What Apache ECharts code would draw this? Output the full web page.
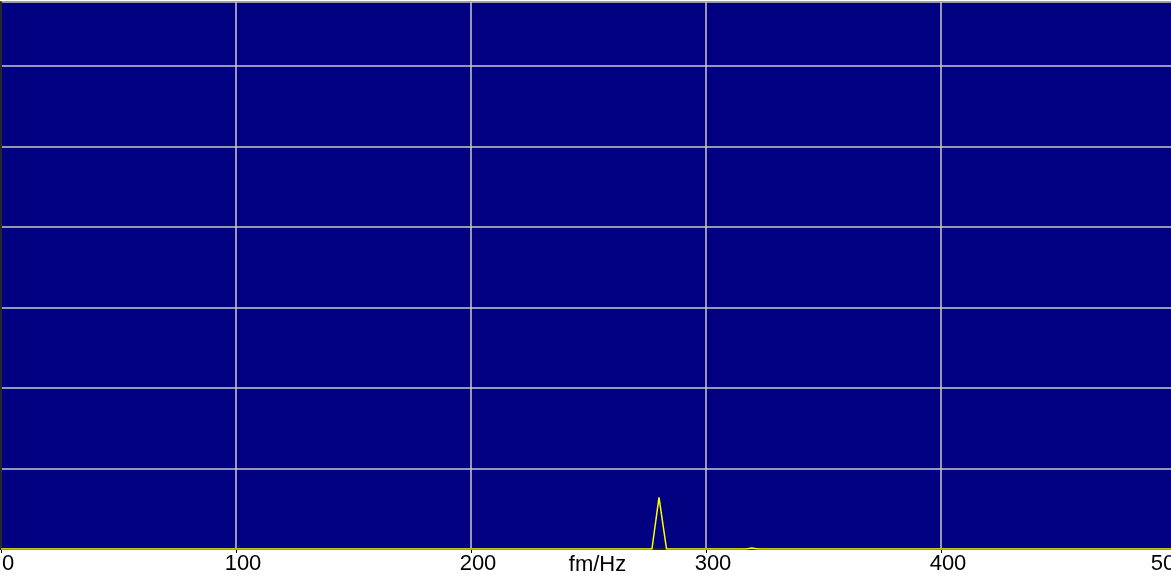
<!DOCTYPE html>
<html>
<head>
<meta charset="utf-8">
<script src="https://cdn.jsdelivr.net/npm/echarts@6/dist/echarts.min.js"></script>
<style>html,body{margin:0;padding:0;background:#fff;}#c{width:1171px;height:581px;}</style>
</head>
<body>
<div id="c"></div>
<script>
// Frequency (Hz) and amplitude of the spectrum trace
var freqs = [0, 277.0, 280.0, 283.2, 317.0, 319.5, 322.0, 500];
var amps  = [0, 0, 0.642, 0, 0, 0.012, 0, 0];
var xTicks = [0, 100, 200, 300, 400, 500];
var xName = 'fm/Hz';

var data = freqs.map(function (f, i) { return [f, amps[i]]; });
var xMax = xTicks[xTicks.length - 1];
var lblFont = { color: '#000', fontSize: 22, fontFamily: 'Liberation Sans' };
var chart = echarts.init(document.getElementById('c'));
chart.setOption({
  animation: false,
  backgroundColor: '#ffffff',
  grid: {
    left: 1, top: 2, bottom: 32, right: -5,
    containLabel: false, outerBoundsMode: 'none',
    show: true, backgroundColor: '#000080', borderColor: '#000000', borderWidth: 1.5
  },
  xAxis: {
    type: 'value',
    min: xTicks[0], max: xMax, interval: 100,
    name: xName, nameLocation: 'middle', nameGap: 5, nameMoveOverlap: false,
    nameTextStyle: { color: '#000', fontSize: 22, fontFamily: 'Liberation Sans', padding: [0, 0, 0, 18] },
    axisLine: { show: true, lineStyle: { color: '#000', width: 1.5 } },
    axisTick: { show: true, length: 4, lineStyle: { color: '#000' } },
    axisLabel: {
      color: '#000', fontSize: 22, fontFamily: 'Liberation Sans', margin: 4, hideOverlap: false,
      formatter: function (v) { return v === xMax ? '{m|' + v + '}' : '{a|' + v + '}'; },
      rich: {
        a: Object.assign({ padding: [0, 0, 0, 14] }, lblFont),
        m: Object.assign({ padding: [0, 14, 0, 0] }, lblFont)
      }
    },
    splitLine: { show: true, lineStyle: { color: '#c8c8c8', width: 1.5 } }
  },
  yAxis: {
    type: 'value', min: 0, max: 6.795, interval: 1,
    axisLine: { show: true, lineStyle: { color: '#000', width: 1.5 } },
    axisTick: { show: false },
    axisLabel: { show: false },
    splitLine: { show: true, lineStyle: { color: '#c8c8c8', width: 1.5 } }
  },
  series: [{
    type: 'line', data: data, showSymbol: false, symbol: 'none',
    lineStyle: { color: '#ffff00', width: 1.5 }, z: 5
  }]
});
</script>
</body>
</html>
